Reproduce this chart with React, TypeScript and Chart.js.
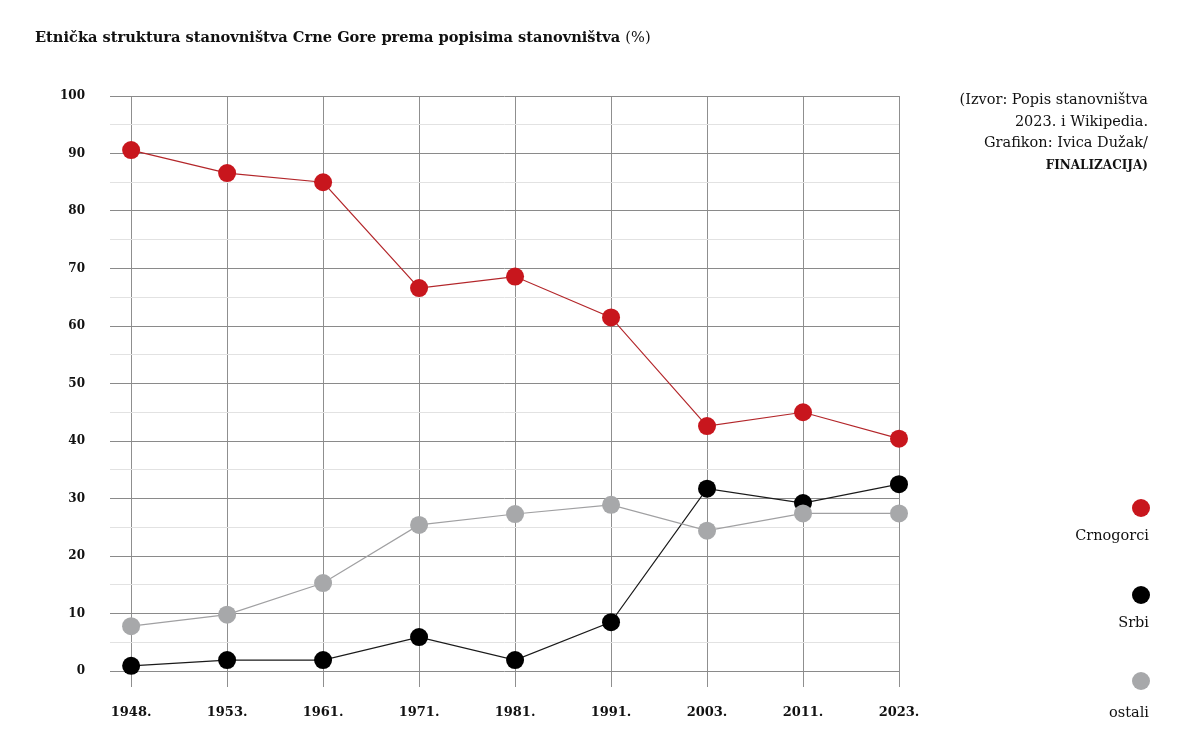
import React, { useEffect, useRef } from "react";
import { Chart, registerables } from "chart.js";

Chart.register(...registerables);

const years = ["1948.", "1953.", "1961.", "1971.", "1981.", "1991.", "2003.", "2011.", "2023."];
const crnogorci = [90.6, 86.6, 85.0, 66.6, 68.6, 61.5, 42.6, 45.0, 40.4];
const srbi = [0.9, 1.9, 1.9, 5.9, 1.9, 8.5, 31.7, 29.2, 32.5];
const ostali = [7.8, 9.8, 15.3, 25.4, 27.3, 28.9, 24.4, 27.4, 27.4];
const yTicks = [0, 10, 20, 30, 40, 50, 60, 70, 80, 90, 100];

const RED = "#c8161d";
const BLACK = "#000000";
const GRAY = "#a7a8aa";
const FONT = "'DejaVu Serif', 'Liberation Serif', serif";

const toPoints = (arr: number[]) => arr.map((v, i) => ({ x: i, y: v }));

export default function App() {
  const ref = useRef<HTMLCanvasElement | null>(null);

  useEffect(() => {
    if (!ref.current) return;
    const mk = (label: string, data: number[], color: string, lineColor: string) => ({
      label,
      data: toPoints(data),
      borderColor: lineColor,
      backgroundColor: color,
      pointBackgroundColor: color,
      pointBorderColor: color,
      pointRadius: 9,
      pointBorderWidth: 0,
      borderWidth: 1.2,
      tension: 0,
      clip: false as any,
    });
    const chart = new Chart(ref.current, {
      type: "line",
      data: {
        datasets: [
          mk("ostali", ostali, GRAY, "#a0a0a2"),
          mk("Srbi", srbi, BLACK, "#1a1a1a"),
          mk("Crnogorci", crnogorci, RED, "#b3262a"),
        ],
      },
      options: {
        animation: false,
        responsive: false,
        maintainAspectRatio: false,
        layout: { padding: { left: 0, top: 96, right: 301, bottom: 0 } },
        plugins: { legend: { display: false }, tooltip: { enabled: false }, title: { display: false } },
        scales: {
          x: {
            type: "linear",
            min: -0.22,
            max: 8,
            afterBuildTicks: (s: any) => {
              s.ticks = years.map((_, i) => ({ value: i }));
            },
            afterFit: (s: any) => {
              s.height = 79;
            },
            border: { display: false },
            grid: {
              color: "#8f8f8f",
              lineWidth: 1,
              drawTicks: true,
              tickLength: 16,
              tickColor: "#8f8f8f",
            },
            ticks: {
              autoSkip: false,
              maxRotation: 0,
              padding: 18,
              color: "#111",
              font: { family: FONT, size: 13, weight: "bold" },
              callback: (v: any) => years[Math.round(Number(v))] ?? "",
            },
          },
          y: {
            min: 0,
            max: 100,
            afterBuildTicks: (s: any) => {
              const t: any[] = [];
              for (let v = 0; v <= 100; v += 5) t.push({ value: v });
              s.ticks = t;
            },
            afterFit: (s: any) => {
              s.width = 110;
            },
            border: { display: false },
            grid: {
              drawTicks: false,
              color: (c: any) => (c.tick && c.tick.value % 10 === 0 ? "#8a8a8a" : "#e2e2e2"),
              lineWidth: 1,
            },
            ticks: {
              autoSkip: false,
              padding: 25,
              color: "#111",
              font: { family: FONT, size: 12, weight: "bold" },
              callback: (v: any) => (yTicks.includes(Number(v)) ? String(v) : ""),
            },
          },
        },
      },
    });
    return () => chart.destroy();
  }, []);

  const legend = [
    { label: "Crnogorci", color: RED, dotY: 508, textY: 535 },
    { label: "Srbi", color: BLACK, dotY: 595, textY: 622 },
    { label: "ostali", color: GRAY, dotY: 681, textY: 712 },
  ];

  return (
    <div style={{ position: "absolute", left: 0, top: 0, width: 1200, height: 750, background: "#fff", fontFamily: FONT }}>
      <canvas ref={ref} width={1200} height={750} style={{ position: "absolute", left: 0, top: 0 }} />
      <div style={{ position: "absolute", left: 35, top: 28, fontSize: 14.6, fontWeight: "bold", color: "#111", whiteSpace: "nowrap" }}>
        Etnička struktura stanovništva Crne Gore prema popisima stanovništva <span style={{ fontWeight: "normal" }}>(%)</span>
      </div>
      <div style={{ position: "absolute", right: 52, top: 89, fontSize: 14.5, lineHeight: "21.5px", textAlign: "right", color: "#111", whiteSpace: "nowrap" }}>
        (Izvor: Popis stanovništva
        <br />
        2023. i Wikipedia.
        <br />
        Grafikon: Ivica Dužak/
        <br />
        <span style={{ fontSize: 12, fontWeight: "bold" }}>FINALIZACIJA)</span>
      </div>
      {legend.map((l) => (
        <React.Fragment key={l.label}>
          <div style={{ position: "absolute", left: 1132, top: l.dotY - 9, width: 18, height: 18, borderRadius: 9, background: l.color }} />
          <div style={{ position: "absolute", right: 51, top: l.textY - 10, fontSize: 14.5, lineHeight: "20px", color: "#111", whiteSpace: "nowrap" }}>
            {l.label}
          </div>
        </React.Fragment>
      ))}
    </div>
  );
}
